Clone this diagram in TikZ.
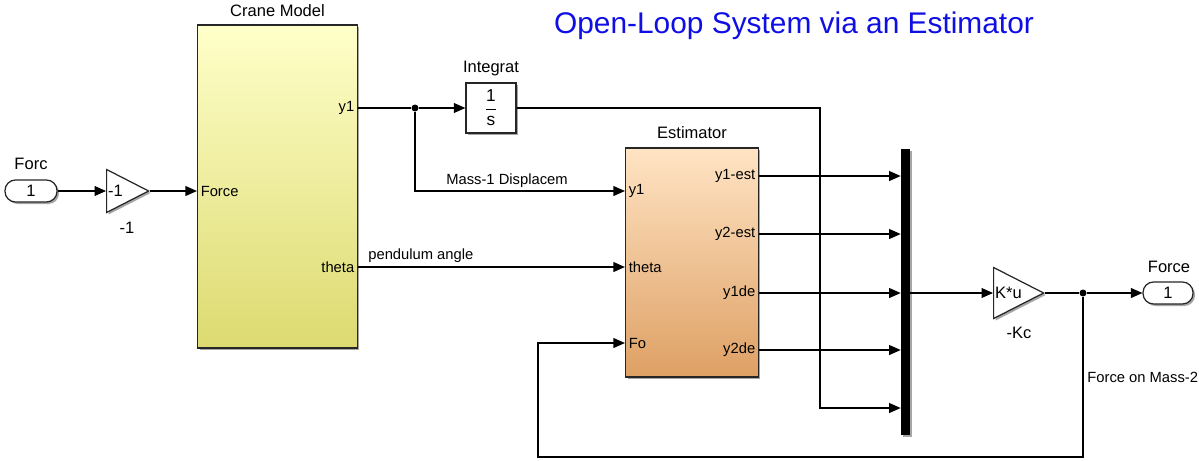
\documentclass[tikz,border=0pt]{standalone}
\usepackage{fontspec}
\setmainfont{Liberation Sans}
\usetikzlibrary{arrows.meta,shapes.geometric,shadows,positioning}

\definecolor{craneTop}{RGB}{255,255,202}
\definecolor{craneBot}{RGB}{220,218,112}
\definecolor{estTop}{RGB}{255,228,196}
\definecolor{estBot}{RGB}{222,160,100}
\definecolor{ttlblue}{RGB}{15,15,228}

\tikzset{
  sig/.style={line width=0.6pt,-{Triangle[length=6.5pt,width=5.6pt]}},
  wire/.style={line width=0.6pt},
  blkshadow/.style={drop shadow={shadow xshift=0.04cm,shadow yshift=-0.04cm,fill=black,opacity=0.35}},
  subsys/.style={draw=black!85,line width=0.7pt,rectangle,inner sep=0pt,blkshadow},
  gain/.style={draw=black!85,line width=0.7pt,isosceles triangle,isosceles triangle stretches,
               inner sep=0pt,fill=white,blkshadow},
  portblk/.style={draw=black!85,line width=0.7pt,rectangle,rounded corners=0.21cm,
                  minimum width=1.04cm,minimum height=0.44cm,inner sep=0pt,fill=white,blkshadow,
                  font=\fontsize{9.4}{11}\selectfont},
  intgblk/.style={draw=black!85,line width=0.7pt,rectangle,fill=white,minimum size=1cm,
                  inner sep=0pt,blkshadow,font=\fontsize{9.8}{11}\selectfont},
  muxbar/.style={rectangle,fill=black,inner sep=0pt,minimum width=0.18cm,minimum height=5.72cm,blkshadow},
  blkname/.style={font=\fontsize{9.4}{11}\selectfont,inner sep=0pt,anchor=base},
  gainval/.style={font=\fontsize{9.4}{11}\selectfont,inner sep=1pt,anchor=west},
  portlab/.style={font=\fontsize{8.4}{10}\selectfont,inner sep=2pt},
  siglab/.style={font=\fontsize{8.4}{10}\selectfont,inner sep=0pt,anchor=base},
  junct/.style={circle,fill=black,inner sep=0pt,minimum size=0.14cm},
}

\begin{document}
\begin{tikzpicture}[x=0.02cm,y=-0.02cm]
  \useasboundingbox (0,0) rectangle (1199,460);
  % title
  \node[font=\fontsize{17}{20}\selectfont,text=ttlblue,anchor=base] (title) at (794,33)
    {Open-Loop System via an Estimator};

  % input side
  \node[portblk] (forc) at (31,191) {1};
  \node[blkname] (forcname) at (31,169) {Forc};
  \node[gain,minimum width=0.86cm,minimum height=0.84cm,anchor=west] (neg) at (106,191) {};
  \node[gainval] (negval) at (neg.west) {-1};
  \node[blkname] (negname) at (127,233) {-1};

  % crane model
  \node[subsys,minimum width=3.2cm,minimum height=6.46cm,top color=craneTop,bottom color=craneBot]
    (crane) at (277.5,186.5) {};
  \node[blkname] (cranename) at (277.5,16) {Crane Model};
  \node[portlab,anchor=west] (cforce) at (crane.west |- 0,191) {Force};
  \node[portlab,anchor=east] (cy1) at (crane.east |- 0,108) {y1};
  \node[portlab,anchor=east] (ctheta) at (crane.east |- 0,267) {theta};

  % integrator
  \node[intgblk] (intg) at (491,108) {$\displaystyle\frac{\mbox{1}}{\mbox{s}}$};
  \node[blkname] (intgname) at (491,72) {Integrat};
  \node[junct] (br1) at (415,108) {};

  % estimator
  \node[subsys,minimum width=2.66cm,minimum height=4.58cm,top color=estTop,bottom color=estBot]
    (est) at (692,262.5) {};
  \node[blkname] (estname) at (692,138) {Estimator};
  \node[portlab,anchor=west] (ey1) at (est.west |- 0,191) {y1};
  \node[portlab,anchor=west] (etheta) at (est.west |- 0,267) {theta};
  \node[portlab,anchor=west] (efo) at (est.west |- 0,343) {Fo};
  \node[portlab,anchor=east] (eo1) at (est.east |- 0,176) {y1-est};
  \node[portlab,anchor=east] (eo2) at (est.east |- 0,234) {y2-est};
  \node[portlab,anchor=east] (eo3) at (est.east |- 0,293) {y1de};
  \node[portlab,anchor=east] (eo4) at (est.east |- 0,350) {y2de};

  % mux
  \node[muxbar] (mux) at (905.5,292) {};
  \coordinate (m5) at (mux.west |- 0,408);
  \coordinate (turn) at (820,300);

  % output side
  \node[gain,minimum width=1.02cm,minimum height=1cm,anchor=west] (kc) at (993,293) {};
  \node[gainval] (kcval) at (kc.west) {K*u};
  \node[blkname] (kcname) at (1019,338) {-Kc};
  \node[junct] (br2) at (1083,293) {};
  \node[portblk,minimum width=1cm] (fout) at (1168,293) {1};
  \node[blkname] (foutname) at (1169,272) {Force};
  \coordinate (fb) at (538,457);

  % signals
  \draw[sig] (forc) -- (neg);
  \draw[sig] (neg.east) -- (crane.west |- neg.east);
  \draw[wire] (crane.east |- cy1) -- (br1);
  \draw[sig] (br1) -- (intg);
  \draw[sig] (br1) |- (est.west |- ey1);
  \draw[sig] (crane.east |- ctheta) -- (est.west |- etheta);
  \foreach \o in {eo1,eo2,eo3,eo4}
    \draw[sig] (est.east |- \o) -- (mux.west |- \o);
  \draw[sig] (intg.east) -| (turn) |- (m5);
  \draw[sig] (mux.east |- kc.west) -- (kc.west);
  \draw[wire] (kc.east) -- (br2);
  \draw[sig] (br2) -- (fout);
  \draw[sig] (br2) |- (fb) |- (est.west |- efo);

  % signal labels
  \node[siglab] (lmass) at (507,184) {Mass-1 Displacem};
  \node[siglab,anchor=base west] (lpend) at (368,259) {pendulum angle};
  \node[siglab,anchor=base west] (lforce) at (1087,382) {Force on Mass-2};
\end{tikzpicture}
\end{document}
